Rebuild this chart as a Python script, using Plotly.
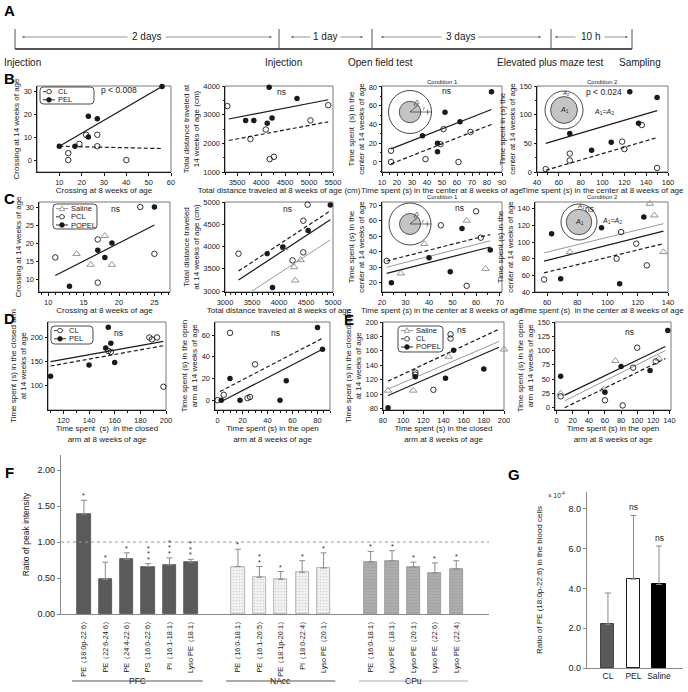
import plotly.graph_objects as go

W, H = 688, 692
FONT = "Liberation Sans, Arial, Helvetica, sans-serif"
INK = "#1a1a1a"
GRAY = "#8a8a8a"

# ---------------- data ----------------
A_events = ["Injection", "Injection", "Open field test", "Elevated plus maze test", "Sampling"]
A_spans = ["2 days", "1 day", "3 days", "10 h"]

B_legend = ["CL", "PEL"]
C_legend = ["Saline", "PCL", "POPEL"]
D_legend = ["CL", "PEL"]
E_legend = ["Saline", "CL", "POPEL"]

# B1 crossing
B1_CL_x = [14, 14, 19, 22, 27, 27, 40]
B1_CL_y = [3, 0, 7, 11, 11, 6, 0]
B1_PEL_x = [10, 17, 23, 23, 27, 56]
B1_PEL_y = [6, 6, 19, 10, 18, 32]
B1_CL_fit_x = [10, 56]
B1_CL_fit_y = [6, 5]
B1_PEL_fit_x = [10, 56]
B1_PEL_fit_y = [6, 32]

# B2 distance
B2_CL_x = [3300, 3780, 4100, 4180, 4270, 5030, 5400]
B2_CL_y = [3300, 2150, 2480, 1450, 1530, 2800, 3330]
B2_PEL_x = [3680, 3850, 4130, 4170, 4230, 4750]
B2_PEL_y = [2800, 2800, 2700, 3960, 2880, 3560]
B2_CL_fit_x = [3330, 5400]
B2_CL_fit_y = [2100, 2750]
B2_PEL_fit_x = [3330, 5400]
B2_PEL_fit_y = [2850, 3520]

# B3 center, condition 1
B3_CL_x = [16, 16, 39, 49, 51, 61, 69]
B3_CL_y = [12, 0, 3, 19, 35, 0, 32]
B3_PEL_x = [37, 47, 47, 52, 62, 83]
B3_PEL_y = [28, 11, 20, 53, 43, 75]
B3_CL_fit_x = [16, 83]
B3_CL_fit_y = [-2, 40]
B3_PEL_fit_x = [16, 83]
B3_PEL_fit_y = [14, 56]

# B4 center, condition 2
B4_CL_x = [48, 70, 70, 118, 120, 136, 150]
B4_CL_y = [5, 32, 20, 53, 40, 82, 7]
B4_PEL_x = [70, 90, 108, 125, 133, 150]
B4_PEL_y = [67, 38, 52, 140, 85, 130]
B4_CL_fit_x = [48, 150]
B4_CL_fit_y = [3, 60]
B4_PEL_fit_x = [48, 150]
B4_PEL_fit_y = [50, 107]

# C1 crossing
C1_Sal_x = [14, 16, 18, 19]
C1_Sal_y = [17, 14, 22, 14]
C1_PCL_x = [11, 17, 17, 23, 25]
C1_PCL_y = [16, 21, 9, 30, 17]
C1_POPEL_x = [13, 17, 18, 19, 25]
C1_POPEL_y = [8, 18, 16, 20, 30]
C1_fit_x = [11, 25]
C1_fit_y = [11, 25]

# C2 distance
C2_Sal_x = [4100, 4280, 4300, 4400]
C2_Sal_y = [3970, 3540, 3240, 3700]
C2_PCL_x = [3250, 4250, 4450, 4450, 4530]
C2_PCL_y = [3840, 3690, 3870, 4580, 4940]
C2_POPEL_x = [3780, 3880, 4070, 4540, 4950]
C2_POPEL_y = [3840, 3080, 3990, 4360, 4930]
C2_PCL_fit_x = [3250, 4950]
C2_PCL_fit_y = [3450, 4800]
C2_POPEL_fit_x = [3250, 4950]
C2_POPEL_fit_y = [3250, 4600]
C2_Sal_fit_x = [3500, 4950]
C2_Sal_fit_y = [3000, 4150]

# C3 center, condition 1
C3_Sal_x = [28, 38, 56, 64]
C3_Sal_y = [26, 45, 60, 29]
C3_PCL_x = [22, 45, 56, 60, 62]
C3_PCL_y = [34, 57, 18, 66, 49]
C3_POPEL_x = [24, 40, 49, 54, 66]
C3_POPEL_y = [20, 36, 27, 55, 41]
C3_PCL_fit_x = [22, 66]
C3_PCL_fit_y = [34, 51]
C3_Sal_fit_x = [22, 66]
C3_Sal_fit_y = [30, 47]
C3_POPEL_fit_x = [22, 66]
C3_POPEL_fit_y = [26, 43]

# C4 center, condition 2
C4_Sal_x = [75, 128, 131, 137]
C4_Sal_y = [88, 146, 132, 88]
C4_PCL_x = [58, 106, 109, 119, 126]
C4_PCL_y = [55, 80, 112, 98, 72]
C4_POPEL_x = [63, 69, 96, 108, 124]
C4_POPEL_y = [110, 56, 117, 50, 130]
C4_Sal_fit_x = [58, 137]
C4_Sal_fit_y = [87, 122]
C4_POPEL_fit_x = [58, 137]
C4_POPEL_fit_y = [77, 113]
C4_PCL_fit_x = [58, 137]
C4_PCL_fit_y = [63, 98]

# D1 closed arm
D1_CL_x = [155, 157, 187, 189, 193, 198]
D1_CL_y = [172, 170, 200, 196, 200, 98]
D1_PEL_x = [110, 140, 153, 155, 157, 160]
D1_PEL_y = [120, 143, 178, 221, 188, 148]
D1_PEL_fit_x = [110, 198]
D1_PEL_fit_y = [150, 192]
D1_CL_fit_x = [110, 198]
D1_CL_fit_y = [141, 183]

# D2 open arm
D2_CL_x = [0, 5, 10, 24, 26, 30]
D2_CL_y = [0, 5, 62, 2, 3, 33]
D2_PEL_x = [3, 10, 18, 50, 55, 80, 84]
D2_PEL_y = [0, 20, 0, 0, 18, 67, 47]
D2_CL_fit_x = [2, 84]
D2_CL_fit_y = [8, 57]
D2_PEL_fit_x = [5, 84]
D2_PEL_fit_y = [0, 47]

# E1 closed arm
E1_Sal_x = [85, 110, 145, 200]
E1_Sal_y = [105, 105, 152, 162]
E1_CL_x = [112, 112, 130, 147, 147]
E1_CL_y = [130, 127, 106, 183, 177]
E1_POPEL_x = [85, 112, 142, 150, 180]
E1_POPEL_y = [81, 124, 122, 161, 135]
E1_CL_fit_x = [85, 195]
E1_CL_fit_y = [118, 190]
E1_Sal_fit_x = [85, 195]
E1_Sal_fit_y = [107, 173]
E1_POPEL_fit_x = [85, 195]
E1_POPEL_fit_y = [98, 165]

# E2 open arm
E2_Sal_x = [5, 58, 73, 127]
E2_Sal_y = [25, 32, 82, 86]
E2_CL_x = [5, 60, 82, 95, 100, 123]
E2_CL_y = [20, 13, 4, 70, 105, 81]
E2_POPEL_x = [5, 60, 80, 116, 138]
E2_POPEL_y = [55, 27, 72, 65, 135]
E2_POPEL_fit_x = [10, 135]
E2_POPEL_fit_y = [22, 107]
E2_Sal_fit_x = [10, 135]
E2_Sal_fit_y = [12, 100]
E2_CL_fit_x = [10, 135]
E2_CL_fit_y = [0, 86]

# F lipid ratios
F_groups = ["PFC", "NAcc", "CPu"]
F_PFC_labels = ["PE（18:0p-22:6）", "PE（22:6-24:6）", "PE（24:4-22:6）", "PS（16:0-22:6）", "PI（16:1-18:1）", "Lyso PE（18:1）"]
F_PFC_mean = [1.39, 0.48, 0.76, 0.66, 0.68, 0.72]
F_PFC_err = [0.19, 0.24, 0.09, 0.04, 0.10, 0.04]
F_PFC_stars = [1, 1, 1, 3, 3, 3]
F_NAcc_labels = ["PE（16:0-18:1）", "PE（16:1-20:5）", "PE（18:1p-20:1）", "PI（18:0-22:4）", "Lyso PE（20:1）"]
F_NAcc_mean = [0.66, 0.51, 0.48, 0.58, 0.64]
F_NAcc_err = [0.24, 0.15, 0.11, 0.16, 0.21]
F_NAcc_stars = [1, 2, 1, 1, 1]
F_CPu_labels = ["PE（16:0-18:1）", "Lyso PE（18:1）", "Lyso PE（20:1）", "Lyso PE（22:6）", "Lyso PE（22:4）"]
F_CPu_mean = [0.72, 0.74, 0.65, 0.57, 0.63]
F_CPu_err = [0.15, 0.14, 0.07, 0.14, 0.11]
F_CPu_stars = [1, 1, 1, 1, 1]

# G blood cells
G_groups = ["CL", "PEL", "Saline"]
G_mean = [2.2, 4.47, 4.2]
G_err = [1.57, 3.2, 1.93]
G_sig = ["", "ns", "ns"]

# ---------------- helpers ----------------
fig = go.Figure()
layout = {}
shapes, annotations = [], []


def X(p):
    return p / W


def Y(p):
    return 1 - p / H


def sfx(n):
    return '' if n == 1 else str(n)


def text(t, x, y, size=8, xa='center', ya='middle', color=INK, angle=0, bold=False):
    if bold:
        t = f"<b>{t}</b>"
    annotations.append(dict(text=t, x=X(x), y=Y(y), xref='paper', yref='paper', showarrow=False,
                            xanchor=xa, yanchor=ya, textangle=angle,
                            font=dict(family=FONT, size=size, color=color)))


def line(x0, y0, x1, y1, color=INK, width=1.0, dash='solid'):
    shapes.append(dict(type='line', xref='paper', yref='paper', x0=X(x0), y0=Y(y0), x1=X(x1), y1=Y(y1),
                       line=dict(color=color, width=width, dash=dash)))


def circle(cx, cy, r, color=INK, fill='rgba(0,0,0,0)', width=0.8):
    shapes.append(dict(type='circle', xref='paper', yref='paper', x0=X(cx - r), x1=X(cx + r),
                       y0=Y(cy + r), y1=Y(cy - r), line=dict(color=color, width=width), fillcolor=fill))


def poly(pts, color=INK, fill='rgba(0,0,0,0)', width=0.8):
    d = 'M' + ' L'.join(f'{X(a):.5f},{Y(b):.5f}' for a, b in pts) + ' Z'
    shapes.append(dict(type='path', xref='paper', yref='paper', path=d,
                       line=dict(color=color, width=width), fillcolor=fill))


def rounded_box(x0, y0, x1, y1, r=3.5):
    p = lambda a, b: f"{X(a):.5f},{Y(b):.5f}"
    d = (f"M{p(x0 + r, y0)} L{p(x1 - r, y0)} Q{p(x1, y0)} {p(x1, y0 + r)} L{p(x1, y1 - r)} "
         f"Q{p(x1, y1)} {p(x1 - r, y1)} L{p(x0 + r, y1)} Q{p(x0, y1)} {p(x0, y1 - r)} "
         f"L{p(x0, y0 + r)} Q{p(x0, y0)} {p(x0 + r, y0)} Z")
    shapes.append(dict(type='path', xref='paper', yref='paper', path=d,
                       line=dict(color=INK, width=0.8), fillcolor='white'))


STYLE = {'CL': ('open', 'dot'), 'PCL': ('open', 'dot'), 'PEL': ('filled', 'solid'),
         'POPEL': ('filled', 'solid'), 'Saline': ('tri', 'solid')}


def legend_box(x0, y0, x1, y1, labels, step=8.2):
    rounded_box(x0, y0, x1, y1)
    for i, lab in enumerate(labels):
        yy = y0 + 4.6 + i * step
        mk, dash = STYLE[lab]
        col = GRAY if mk == 'tri' else INK
        line(x0 + 3, yy, x0 + 15, yy, color=col, width=0.9, dash=dash)
        if mk == 'open':
            circle(x0 + 9, yy, 2.3, color=INK, fill='white', width=0.8)
        elif mk == 'filled':
            circle(x0 + 9, yy, 2.4, color=INK, fill=INK, width=0.6)
        else:
            poly([(x0 + 9, yy - 2.8), (x0 + 11.7, yy + 2.0), (x0 + 6.3, yy + 2.0)], color=col, fill='white', width=0.8)
        text(lab, x0 + 15.5, yy, size=7.5, xa='left')


def inset_r(cx, cy, R):
    circle(cx, cy, R, width=0.8)
    circle(cx, cy, R / 2, fill='#c4c4c4', width=0.7)
    line(cx, cy, cx + R, cy, width=0.6)
    line(cx + R * 0.82, cy - 2.5, cx + R * 0.82, cy + 2.5, width=0.6)
    line(cx, cy, cx + R * 0.5 * 0.77, cy - R * 0.5 * 0.64, width=0.6)
    text('<i>r</i>/2', cx + R * 0.3, cy - R * 0.42, size=5.5, angle=-40)
    text('<i>r</i>', cx + R * 0.66, cy - 3.5, size=5.5)


def inset_a(cx, cy, R):
    circle(cx, cy, R, width=0.8)
    circle(cx, cy, R * 0.707, fill='#c4c4c4', width=0.7)
    text('<i>A</i><sub>1</sub>', cx, cy, size=7)
    text('<i>A</i><sub>2</sub>', cx + 2, cy - R * 0.86, size=6)


AX = dict(showline=True, linecolor=INK, linewidth=1, ticks='outside', ticklen=2.5, tickwidth=0.8,
          tickcolor=INK, tickfont=dict(family=FONT, size=7.5, color=INK), showgrid=False,
          zeroline=False, automargin=False)

MK = {'open': dict(symbol='circle-open', color=INK, size=5.5, line=dict(width=0.9, color=INK)),
      'filled': dict(symbol='circle', color=INK, size=5.5, line=dict(width=0)),
      'tri': dict(symbol='triangle-up-open', color=GRAY, size=6.5, line=dict(width=0.9, color=GRAY))}
LN = {'solid': dict(color=INK, width=1.2), 'dash': dict(color=INK, width=1.2, dash='4px,2.5px'),
      'gray': dict(color='#9a9a9a', width=1.0)}


def scatter_panel(n, xd, yd, xr, yr, xt, yt, xtitle, ytitle, pts, fits, notes, xminor=None, yminor=None):
    s = sfx(n)
    xa = dict(domain=[X(xd[0]), X(xd[1])], anchor='y' + s, range=xr, tickvals=xt,
              title=dict(text=xtitle, font=dict(family=FONT, size=8, color=INK), standoff=1), **AX)
    ya = dict(domain=[Y(yd[1]), Y(yd[0])], anchor='x' + s, range=yr, tickvals=yt,
              title=dict(text=ytitle, font=dict(family=FONT, size=8, color=INK), standoff=2), **AX)
    if xminor:
        xa['minor'] = dict(ticks='outside', ticklen=1.5, tickcolor=INK, dtick=xminor)
    if yminor:
        ya['minor'] = dict(ticks='outside', ticklen=1.5, tickcolor=INK, dtick=yminor)
    layout['xaxis' + s] = xa
    layout['yaxis' + s] = ya
    shapes.append(dict(type='rect', xref='x' + s + ' domain', yref='y' + s + ' domain', x0=0, x1=1, y0=0, y1=1,
                       line=dict(color='#7a7a7a', width=1), layer='below'))
    for fx, fy, kind in fits:
        fig.add_trace(go.Scatter(x=fx, y=fy, mode='lines', line=LN[kind], xaxis='x' + s, yaxis='y' + s,
                                 hoverinfo='skip'))
    for px_, py_, kind in pts:
        fig.add_trace(go.Scatter(x=px_, y=py_, mode='markers', marker=MK[kind], xaxis='x' + s, yaxis='y' + s,
                                 cliponaxis=False))
    for t, x, y, *anc in notes:
        annotations.append(dict(text=t, x=x, y=y, xref='x' + s, yref='y' + s, showarrow=False,
                                xanchor=anc[0] if anc else 'center',
                                font=dict(family=FONT, size=8.5, color=INK)))


# ---------------- panel A: timeline ----------------
TL_Y = 49
tick_x = [15, 279, 372, 551, 632]
line(tick_x[0], TL_Y, tick_x[-1], TL_Y, color='#555', width=2)
for tx in tick_x:
    line(tx, 29, tx, TL_Y, color='#555', width=1)
span_geom = [(22, 129, 146, 164, 272), (291, 312, 325, 339, 363), (381, 443, 460, 477, 541), (555, 577, 590, 603, 628)]
for lab, (a0, a1, c, b0, b1) in zip(A_spans, span_geom):
    text(lab, c, 37, size=10)
    for head, tail in ((a0, a1), (b1, b0)):
        annotations.append(dict(text='', x=X(head), y=Y(37), xref='paper', yref='paper', showarrow=True,
                                ax=tail - head, ay=0, axref='pixel', ayref='pixel', arrowhead=2,
                                arrowsize=0.7, arrowwidth=0.7, arrowcolor='#666'))
event_geom = [(2, 'left'), (283, 'center'), (380, 'center'), (550, 'center'), (640, 'center')]
for lab, (ex, anc) in zip(A_events, event_geom):
    text(lab, ex, 62, size=10, xa=anc)

# ---------------- panels B-E ----------------
XT_CEN8 = 'Time spent (s) in the center at 8 weeks of age'
scatter_panel(1, (37, 171), (86, 172), [0, 60], [-5.2, 32.2], [10, 20, 30, 40, 50, 60], [0, 10, 20, 30],
              'Crossing at 8 weeks of age', 'Crossing at 14 weeks of age',
              [(B1_CL_x, B1_CL_y, 'open'), (B1_PEL_x, B1_PEL_y, 'filled')],
              [(B1_CL_fit_x, B1_CL_fit_y, 'dash'), (B1_PEL_fit_x, B1_PEL_fit_y, 'solid')],
              [('p < 0.008', 36.5, 30.5)])
scatter_panel(2, (225, 333), (86, 172), [3250, 5500], [1000, 4000], [3500, 4000, 4500, 5000, 5500],
              [1000, 2000, 3000, 4000], 'Total distance traveled at 8 weeks of age (cm)',
              'Total distance traveled at<br>14 weeks of age (cm)',
              [(B2_CL_x, B2_CL_y, 'open'), (B2_PEL_x, B2_PEL_y, 'filled')],
              [(B2_CL_fit_x, B2_CL_fit_y, 'dash'), (B2_PEL_fit_x, B2_PEL_fit_y, 'solid')],
              [('ns', 4430, 3800)], xminor=250, yminor=500)
scatter_panel(3, (382, 502), (86, 172), [10, 90], [-10.7, 81], [10, 20, 30, 40, 50, 60, 70, 80, 90],
              [0, 20, 40, 60, 80], XT_CEN8, 'Time spent  (s) in the<br>center at 14 weeks of age',
              [(B3_CL_x, B3_CL_y, 'open'), (B3_PEL_x, B3_PEL_y, 'filled')],
              [(B3_CL_fit_x, B3_CL_fit_y, 'dash'), (B3_PEL_fit_x, B3_PEL_fit_y, 'solid')],
              [('ns', 53, 76)], xminor=5, yminor=10)
scatter_panel(4, (537, 668), (86, 172), [40, 160], [0, 150], [40, 60, 80, 100, 120, 140, 160],
              [0, 50, 100, 150], XT_CEN8, 'Time spent in (s) the<br>center at 14 weeks of age',
              [(B4_CL_x, B4_CL_y, 'open'), (B4_PEL_x, B4_PEL_y, 'filled')],
              [(B4_CL_fit_x, B4_CL_fit_y, 'dash'), (B4_PEL_fit_x, B4_PEL_fit_y, 'solid')],
              [('p < 0.024', 120, 140, 'right')], xminor=10, yminor=25)

scatter_panel(5, (39, 170), (202, 292), [8.7, 27.2], [6.4, 31.4], [10, 15, 20, 25], [10, 15, 20, 25, 30],
              'Crossing at 8 weeks of age', 'Crossing at 14 weeks of age',
              [(C1_Sal_x, C1_Sal_y, 'tri'), (C1_PCL_x, C1_PCL_y, 'open'), (C1_POPEL_x, C1_POPEL_y, 'filled')],
              [(C1_fit_x, C1_fit_y, 'solid')],
              [('ns', 19.5, 29.5)], xminor=1)
scatter_panel(6, (225, 333), (202, 292), [3000, 5000], [2980, 5000], [3000, 3500, 4000, 4500, 5000],
              [3000, 3500, 4000, 4500, 5000], 'Total distance traveled at 8 weeks of age',
              'Total distance traveled<br>at 14 weeks of age (cm)',
              [(C2_Sal_x, C2_Sal_y, 'tri'), (C2_PCL_x, C2_PCL_y, 'open'), (C2_POPEL_x, C2_POPEL_y, 'filled')],
              [(C2_PCL_fit_x, C2_PCL_fit_y, 'dash'), (C2_POPEL_fit_x, C2_POPEL_fit_y, 'solid'),
               (C2_Sal_fit_x, C2_Sal_fit_y, 'gray')],
              [('ns', 4150, 4850)], xminor=100)
scatter_panel(7, (382, 502), (202, 292), [20, 71], [14, 72], [20, 30, 40, 50, 60, 70],
              [20, 30, 40, 50, 60, 70], XT_CEN8, 'Time spent (s) in the<br>center at 14 weeks of age',
              [(C3_Sal_x, C3_Sal_y, 'tri'), (C3_PCL_x, C3_PCL_y, 'open'), (C3_POPEL_x, C3_POPEL_y, 'filled')],
              [(C3_PCL_fit_x, C3_PCL_fit_y, 'dash'), (C3_Sal_fit_x, C3_Sal_fit_y, 'gray'),
               (C3_POPEL_fit_x, C3_POPEL_fit_y, 'solid')],
              [('ns', 53, 68)], xminor=5)
scatter_panel(8, (535, 668), (202, 292), [52, 140], [40, 148], [60, 80, 100, 120, 140],
              [40, 60, 80, 100, 120, 140], 'Time spent (s)  in the center at 8 weeks of age',
              'Time spent (s) in the<br>center at 14 weeks of age',
              [(C4_Sal_x, C4_Sal_y, 'tri'), (C4_PCL_x, C4_PCL_y, 'open'), (C4_POPEL_x, C4_POPEL_y, 'filled')],
              [(C4_Sal_fit_x, C4_Sal_fit_y, 'gray'), (C4_POPEL_fit_x, C4_POPEL_fit_y, 'solid'),
               (C4_PCL_fit_x, C4_PCL_fit_y, 'dash')],
              [('ns', 88, 140)], xminor=10)

scatter_panel(9, (48, 166), (322, 410), [108, 200], [50, 232], [120, 140, 160, 180, 200], [100, 150, 200],
              'Time spent  (s)  in the closed<br>arm at 8 weeks of age',
              'Time spent (s) in the closed arm<br>at 14 weeks of age',
              [(D1_CL_x, D1_CL_y, 'open'), (D1_PEL_x, D1_PEL_y, 'filled')],
              [(D1_PEL_fit_x, D1_PEL_fit_y, 'solid'), (D1_CL_fit_x, D1_CL_fit_y, 'dash')],
              [('ns', 163, 210)], xminor=10)
scatter_panel(10, (215, 330), (322, 410), [-2, 90], [-9, 72], [0, 20, 40, 60, 80], [0, 20, 40, 60],
              'Time spent (s) in the open<br>arm at 8 weeks of age',
              'Time spent (s) in the open<br>arm at 14 weeks of age',
              [(D2_CL_x, D2_CL_y, 'open'), (D2_PEL_x, D2_PEL_y, 'filled')],
              [(D2_CL_fit_x, D2_CL_fit_y, 'dash'), (D2_PEL_fit_x, D2_PEL_fit_y, 'solid')],
              [('ns', 46, 62)], xminor=5)
scatter_panel(11, (383, 504), (322, 410), [80, 200], [78, 200], [80, 100, 120, 140, 160, 180, 200],
              [80, 100, 120, 140, 160, 180, 200], 'Time spent (s) in the closed<br>arm at 8 weeks of age',
              'Time spent (s) in the closed arm<br>at 14 weeks of age',
              [(E1_Sal_x, E1_Sal_y, 'tri'), (E1_CL_x, E1_CL_y, 'open'), (E1_POPEL_x, E1_POPEL_y, 'filled')],
              [(E1_CL_fit_x, E1_CL_fit_y, 'dash'), (E1_Sal_fit_x, E1_Sal_fit_y, 'gray'),
               (E1_POPEL_fit_x, E1_POPEL_fit_y, 'solid')],
              [('ns', 158, 189)])
scatter_panel(12, (555, 671), (322, 410), [-2, 142], [-4, 150], [0, 20, 40, 60, 80, 100, 120, 140],
              [0, 25, 50, 75, 100, 125, 150], 'Time spent (s) in the open<br>arm at 8 weeks of age',
              'Time spent (s) in the open<br>arm at 14 weeks of age',
              [(E2_Sal_x, E2_Sal_y, 'tri'), (E2_CL_x, E2_CL_y, 'open'), (E2_POPEL_x, E2_POPEL_y, 'filled')],
              [(E2_POPEL_fit_x, E2_POPEL_fit_y, 'solid'), (E2_Sal_fit_x, E2_Sal_fit_y, 'gray'),
               (E2_CL_fit_x, E2_CL_fit_y, 'dash')],
              [('ns', 90, 133)])

# legends, insets, titles
legend_box(40, 87, 94, 104, B_legend)
legend_box(53, 204, 97, 229, C_legend)
legend_box(51, 326, 93, 344, D_legend)
legend_box(398, 326, 443, 352, E_legend)

inset_r(410, 112, 21.5)
inset_a(564, 110, 19)
text('<i>A</i><sub>1</sub>=<i>A</i><sub>2</sub>', 592, 112, size=7, xa='left')
inset_r(410, 224, 21)
inset_a(579, 222, 18)
text('<i>A</i><sub>1</sub>=<i>A</i><sub>2</sub>', 600, 221, size=7, xa='left')

text('Condition 1', 442, 82, size=6)
text('Condition 2', 602, 82, size=6)
text('Condition 1', 442, 197.5, size=6)
text('Condition 2', 602, 197.5, size=6)

# ---------------- panel F: bars ----------------
GROUP_GAP = 2.2
F_labels = [F_PFC_labels, F_NAcc_labels, F_CPu_labels]
F_means = [F_PFC_mean, F_NAcc_mean, F_CPu_mean]
F_errs = [F_PFC_err, F_NAcc_err, F_CPu_err]
F_stars = [F_PFC_stars, F_NAcc_stars, F_CPu_stars]
F_pos = []
start = 0.0
for labs in F_labels:
    F_pos.append([start + i for i in range(len(labs))])
    start += len(labs) - 1 + GROUP_GAP

bar_styles = [
    dict(color='#5a5a5a', line=dict(color='#444', width=0.7)),
    dict(color='#f3f3f3', line=dict(color='#9a9a9a', width=0.7),
         pattern=dict(shape='.', fgcolor='#b0b0b0', size=3, solidity=0.25)),
    dict(color='#adadad', line=dict(color='#8a8a8a', width=0.7),
         pattern=dict(shape='-', fgcolor='#9a9a9a', size=3, solidity=0.3)),
]
for pos, mean, err, st in zip(F_pos, F_means, F_errs, bar_styles):
    fig.add_trace(go.Bar(x=pos, y=mean, width=0.62, marker=st, xaxis='x13', yaxis='y13',
                         error_y=dict(type='data', array=err, arrayminus=[0] * len(err), symmetric=False,
                                      color='#8a8a8a', thickness=1, width=3)))
for pos, mean, err, stars in zip(F_pos, F_means, F_errs, F_stars):
    for x, m, e, k in zip(pos, mean, err, stars):
        for j in range(k):
            annotations.append(dict(text='*', x=x, y=m + e, xref='x13', yref='y13', showarrow=False,
                                    yanchor='bottom', yshift=-1 + 5.5 * j,
                                    font=dict(family=FONT, size=7, color=INK)))
all_pos = [p for g in F_pos for p in g]
all_lab = [l for g in F_labels for l in g]
layout['xaxis13'] = dict(domain=[X(61), X(489)], anchor='y13', range=[-1.07, 18.93], tickvals=all_pos,
                         ticktext=all_lab, tickangle=-90, showline=True, linecolor='#8a8a8a', linewidth=1.2,
                         ticks='', showgrid=False, zeroline=False, automargin=False,
                         tickfont=dict(family=FONT, size=7.3, color=INK))
layout['yaxis13'] = dict(domain=[Y(614), Y(455)], anchor='x13', range=[0, 2.21],
                         tickvals=[0, 0.5, 1.0, 1.5, 2.0], tickformat='.2f', showline=True,
                         linecolor='#8a8a8a', linewidth=1.2, ticks='outside', ticklen=3, tickcolor='#8a8a8a',
                         showgrid=False, zeroline=False, automargin=False,
                         tickfont=dict(family=FONT, size=9, color=INK),
                         title=dict(text='Ratio of peak intensity', standoff=6,
                                    font=dict(family=FONT, size=8.5, color=INK)))
shapes.append(dict(type='line', xref='x13 domain', yref='y13', x0=0, x1=1, y0=1, y1=1,
                   line=dict(color='#9a9a9a', width=1, dash='dot')))
for name, pos, col in zip(F_groups, F_pos, ['#555', '#555', '#aaa']):
    shapes.append(dict(type='line', xref='x13', yref='paper', x0=pos[0] - 0.55, x1=pos[-1] + 0.55,
                       y0=Y(681), y1=Y(681), line=dict(color=col, width=1)))
    annotations.append(dict(text=name, x=(pos[0] + pos[-1]) / 2, y=Y(687.5), xref='x13', yref='paper',
                            showarrow=False, font=dict(family=FONT, size=8.5, color=INK)))

# ---------------- panel G ----------------
fig.add_trace(go.Bar(x=G_groups, y=G_mean, width=0.51, xaxis='x14', yaxis='y14',
                     marker=dict(color=['#5a5a5a', 'white', '#000'], line=dict(color=['#444', INK, '#000'], width=1)),
                     error_y=dict(type='data', array=G_err, arrayminus=[0] * len(G_err), symmetric=False,
                                  color='#8a8a8a', thickness=1, width=3)))
for g, m, e, s in zip(G_groups, G_mean, G_err, G_sig):
    if s:
        annotations.append(dict(text=s, x=g, y=m + e, xref='x14', yref='y14', showarrow=False,
                                yanchor='bottom', yshift=1, font=dict(family=FONT, size=8.5, color=INK)))
layout['xaxis14'] = dict(domain=[X(587), X(683)], anchor='y14', range=[-0.82, 2.94], type='category',
                         showline=True, linecolor='#8a8a8a', linewidth=1.2, ticks='', showgrid=False,
                         zeroline=False, automargin=False, tickfont=dict(family=FONT, size=8.5, color=INK))
layout['yaxis14'] = dict(domain=[Y(668), Y(492)], anchor='x14', range=[0, 8.85], tickvals=[0, 2, 4, 6, 8],
                         tickformat='.1f', showline=True, linecolor='#8a8a8a', linewidth=1.2, ticks='outside',
                         ticklen=3, tickcolor='#8a8a8a', showgrid=False, zeroline=False, automargin=False,
                         tickfont=dict(family=FONT, size=9, color=INK),
                         title=dict(text='Ratio of PE (18:0p-22:6) in the blood cells', standoff=24,
                                    font=dict(family=FONT, size=8, color=INK)))
text('× 10<sup>-4</sup>', 556, 495, size=6.5)

# ---------------- panel letters ----------------
for lab, lx, ly in [('A', 9, 11), ('B', 9, 79), ('C', 9, 198), ('D', 9, 318), ('E', 349, 319),
                    ('F', 9, 473), ('G', 514, 474)]:
    text(lab, lx, ly, size=15, bold=True, color='#000')

layout.update(width=W, height=H, margin=dict(l=0, r=0, t=0, b=0), paper_bgcolor='white',
              plot_bgcolor='rgba(0,0,0,0)', showlegend=False, hovermode=False, bargap=0,
              font=dict(family=FONT, size=8, color=INK), shapes=shapes, annotations=annotations)
fig.update_layout(**layout)
fig.write_html("out.html", config={'displayModeBar': False},
               post_script="document.body.style.margin='0';document.body.style.padding='0';"
                           "document.body.style.overflow='hidden';")
